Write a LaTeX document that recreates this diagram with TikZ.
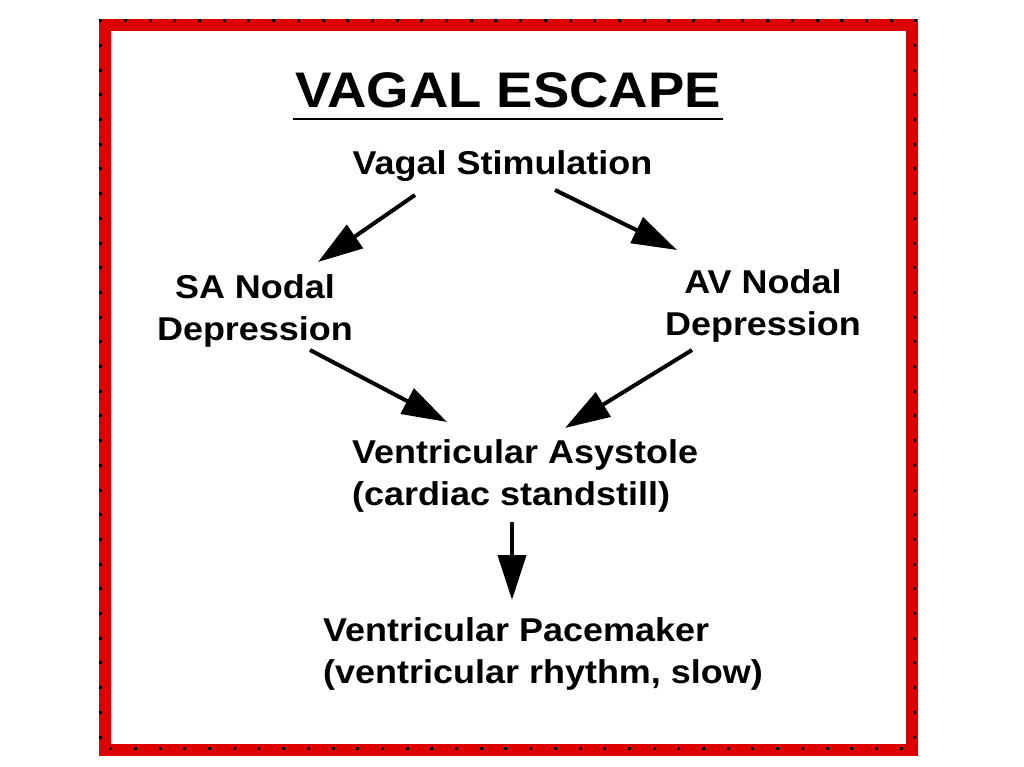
\documentclass[tikz,border=0pt]{standalone}
\usepackage{fontspec}
\newfontfamily\pix{Liberation Sans}[FakeStretch=1.09]
\usetikzlibrary{arrows.meta}
\definecolor{framered}{RGB}{220,0,0}
\begin{document}
\begin{tikzpicture}[x=1pt,y=-1pt,
  lbl/.style={inner sep=0pt, font=\pix\bfseries\fontsize{33}{42}\selectfont},
  ttl/.style={inner sep=0pt, font=\pix\bfseries\fontsize{50}{60}\selectfont},
  arr/.style={line width=4pt, -{Triangle[length=45pt,width=28pt]}},
  dotmark/.style={fill=black}]
\fill[white] (0,0) rectangle (1024,767);
\useasboundingbox (0,0) rectangle (1024,767);
% frame
\draw[framered, line width=12pt] (105,25) rectangle (912,750);
\foreach \i in {0,...,33} \fill[dotmark] (99.2+24.7*\i,19.2) rectangle ++(3,3);
\foreach \i in {1,...,29} \fill[dotmark] (99.2,19.2+24.7*\i) rectangle ++(3,3);
\foreach \i in {1,...,29} \fill[dotmark] (912.5,19.2+24.7*\i) rectangle ++(3,3);
\foreach \i in {0,...,32} \fill[dotmark] (109.2+24.7*\i,746.5) rectangle ++(3,3);
% texts
\node[ttl, anchor=base] (title) at (508,108) {VAGAL ESCAPE};
\draw[line width=2.5pt] ([shift={(-2,11)}]title.base west) -- ([shift={(2,11)}]title.base east);
\node[lbl, anchor=base] (vs) at (502.5,175) {Vagal Stimulation};
\node[lbl, align=center, anchor=base] (sa) at (255,340) {SA Nodal\\Depression};
\node[lbl, align=center, anchor=base] (av) at (763,335) {AV Nodal\\Depression};
\node[lbl, align=left, anchor=base west] (as) at (352,505) {Ventricular Asystole\\(cardiac standstill)};
\node[lbl, align=left, anchor=base west] (pm) at (323,683) {Ventricular Pacemaker\\(ventricular rhythm, slow)};
% arrows
\draw[arr] ([shift={(-87.5,20)}]vs.base) -- ([shift={(63,-78)}]sa.base);
\draw[arr] ([shift={(52.5,15)}]vs.base) -- ([shift={(-86,-85)}]av.base);
\draw[arr] ([shift={(55,10)}]sa.base) -- ([shift={(95,-83)}]as.base west);
\draw[arr] ([shift={(-71,15)}]av.base) -- ([shift={(213,-77)}]as.base west);
\draw[arr] ([shift={(160,17)}]as.base west) -- ([shift={(189,-83)}]pm.base west);
\end{tikzpicture}
\end{document}
